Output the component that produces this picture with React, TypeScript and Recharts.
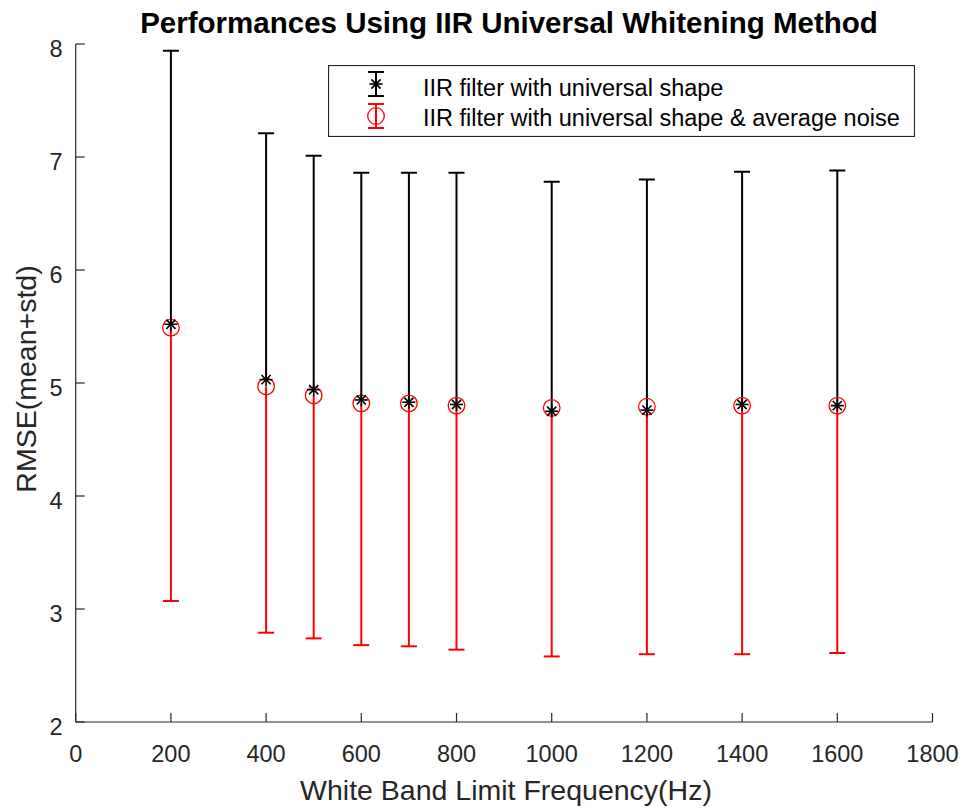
import { ComposedChart, Scatter, XAxis, YAxis, ReferenceLine, Legend, Label } from 'recharts'

// x positions (Hz) of the measured cut-off frequencies
const frequencies = [200, 400, 500, 600, 700, 800, 1000, 1200, 1400, 1600]

// IIR filter with universal shape: mean and mean+std
const shapeMean = [5.52, 5.03, 4.94, 4.85, 4.83, 4.81, 4.75, 4.76, 4.81, 4.80]
const shapeUpper = [7.94, 7.21, 7.01, 6.86, 6.86, 6.86, 6.78, 6.80, 6.87, 6.88]

// IIR filter with universal shape & average noise: mean and mean-std
const noiseMean = [5.49, 4.97, 4.89, 4.82, 4.82, 4.80, 4.78, 4.79, 4.80, 4.80]
const noiseLower = [3.07, 2.79, 2.74, 2.68, 2.67, 2.64, 2.58, 2.60, 2.60, 2.61]

const xTicks = [0, 200, 400, 600, 800, 1000, 1200, 1400, 1600, 1800]
const yTicks = [2, 3, 4, 5, 6, 7, 8]

const legendNames = ['IIR filter with universal shape', 'IIR filter with universal shape & average noise']

const AXIS = '#262626'
const FONT = '"Liberation Sans", Arial, Helvetica, sans-serif'

const shapeMeanPts = frequencies.map((x, i) => ({ x, y: shapeMean[i] }))
const shapeUpperPts = frequencies.map((x, i) => ({ x, y: shapeUpper[i] }))
const noiseMeanPts = frequencies.map((x, i) => ({ x, y: noiseMean[i] }))
const noiseLowerPts = frequencies.map((x, i) => ({ x, y: noiseLower[i] }))

const Cap = (color: string) => (props: any) => {
  const { cx, cy } = props
  return <line x1={cx - 8} x2={cx + 8} y1={cy} y2={cy} stroke={color} strokeWidth={2} />
}

const Star = (props: any) => {
  const { cx, cy } = props
  const s = 6.5
  const d = 4.6
  return (
    <g stroke="#000" strokeWidth={1.6}>
      <line x1={cx - s} x2={cx + s} y1={cy} y2={cy} />
      <line x1={cx} x2={cx} y1={cy - s} y2={cy + s} />
      <line x1={cx - d} x2={cx + d} y1={cy - d} y2={cy + d} />
      <line x1={cx - d} x2={cx + d} y1={cy + d} y2={cy - d} />
    </g>
  )
}

const Ring = (props: any) => {
  const { cx, cy } = props
  return <circle cx={cx} cy={cy} r={8.3} fill="none" stroke="#ff0000" strokeWidth={1.3} />
}

const XTick = ({ x, y, payload }: any) => (
  <g>
    <line x1={x} x2={x} y1={y} y2={y - 9} stroke={AXIS} strokeWidth={1.2} />
    <text x={x} y={y + 40} textAnchor="middle" fill={AXIS} fontSize={23.5} fontFamily={FONT}>
      {payload.value}
    </text>
  </g>
)

const YTick = ({ x, y, payload }: any) => (
  <g>
    <line x1={x} x2={x + 9} y1={y} y2={y} stroke={AXIS} strokeWidth={1.2} />
    <text x={x - 13} y={y + 12.5} textAnchor="end" fill={AXIS} fontSize={23.5} fontFamily={FONT}>
      {payload.value}
    </text>
  </g>
)

const LegendBox = () => (
  <svg width={587} height={72} style={{ display: 'block' }}>
    <rect x={0.5} y={0.5} width={586} height={71} fill="#fff" stroke={AXIS} strokeWidth={1.2} />
    <g stroke="#000" strokeWidth={2}>
      <line x1={48} x2={48} y1={7} y2={31} />
      <line x1={40} x2={56} y1={7} y2={7} />
      <line x1={40} x2={56} y1={31} y2={31} />
    </g>
    <Star cx={48} cy={19} />
    <g stroke="#ff0000" strokeWidth={2}>
      <line x1={48} x2={48} y1={39} y2={63} />
      <line x1={40} x2={56} y1={39} y2={39} />
      <line x1={40} x2={56} y1={63} y2={63} />
    </g>
    <circle cx={48} cy={51} r={8.3} fill="none" stroke="#ff0000" strokeWidth={1.3} />
    <text x={95} y={31} fontFamily={FONT} fontSize={23.5} fill="#000">{legendNames[0]}</text>
    <text x={95} y={61} fontFamily={FONT} fontSize={23.5} fill="#000">{legendNames[1]}</text>
  </svg>
)

export default function App() {
  return (
    <div style={{ position: 'absolute', left: 0, top: 0, width: 964, height: 812, background: '#fff' }}>
      <ComposedChart width={964} height={812} margin={{ top: 44, right: 31.5, bottom: 0, left: 0 }}>
        <text x={509} y={33} textAnchor="middle" fontFamily={FONT} fontWeight="bold" fontSize={29.5} fill="#000">
          Performances Using IIR Universal Whitening Method
        </text>
        <XAxis
          type="number"
          dataKey="x"
          domain={[0, 1800]}
          ticks={xTicks}
          interval={0}
          height={90}
          tickSize={0}
          tickMargin={0}
          tickLine={false}
          axisLine={{ stroke: AXIS, strokeWidth: 1.2 }}
          tick={<XTick />}
          allowDataOverflow
        >
          <Label
            content={({ viewBox }: any) => (
              <text
                x={506}
                y={viewBox.y + 78}
                textAnchor="middle"
                fill={AXIS}
                fontSize={28.5}
                fontFamily={FONT}
              >
                White Band Limit Frequency(Hz)
              </text>
            )}
          />
        </XAxis>
        <YAxis
          type="number"
          dataKey="y"
          domain={[2, 8]}
          ticks={yTicks}
          interval={0}
          width={75.7}
          tickSize={0}
          tickMargin={0}
          tickLine={false}
          axisLine={{ stroke: AXIS, strokeWidth: 1.2 }}
          tick={<YTick />}
          allowDataOverflow
        >
          <Label
            content={() => {
              const cx = 25.5
              const cy = 379
              return (
                <text
                  x={cx}
                  y={cy}
                  transform={`rotate(-90 ${cx} ${cy})`}
                  textAnchor="middle"
                  dominantBaseline="central"
                  fill={AXIS}
                  fontSize={28.5}
                  fontFamily={FONT}
                >
                  RMSE(mean+std)
                </text>
              )
            }}
          />
        </YAxis>
        <Legend
          layout="horizontal"
          verticalAlign="middle"
          align="center"
          content={() => <LegendBox />}
          wrapperStyle={{ position: 'absolute', left: 328, top: 65, width: 587, height: 72 }}
        />

        {frequencies.map((x, i) => (
          <ReferenceLine
            key={`n${x}`}
            segment={[{ x, y: noiseMean[i] }, { x, y: noiseLower[i] }]}
            stroke="#ff0000"
            strokeWidth={2}
            ifOverflow="visible"
          />
        ))}
        {frequencies.map((x, i) => (
          <ReferenceLine
            key={`s${x}`}
            segment={[{ x, y: shapeMean[i] }, { x, y: shapeUpper[i] }]}
            stroke="#000"
            strokeWidth={2}
            ifOverflow="visible"
          />
        ))}
        <Scatter data={noiseLowerPts} dataKey="y" shape={Cap('#ff0000')} isAnimationActive={false} legendType="none" />
        <Scatter data={noiseMeanPts} dataKey="y" shape={Ring} isAnimationActive={false} name={legendNames[1]} />
        <Scatter data={shapeUpperPts} dataKey="y" shape={Cap('#000')} isAnimationActive={false} legendType="none" />
        <Scatter data={shapeMeanPts} dataKey="y" shape={Star} isAnimationActive={false} name={legendNames[0]} />
      </ComposedChart>
    </div>
  )
}
